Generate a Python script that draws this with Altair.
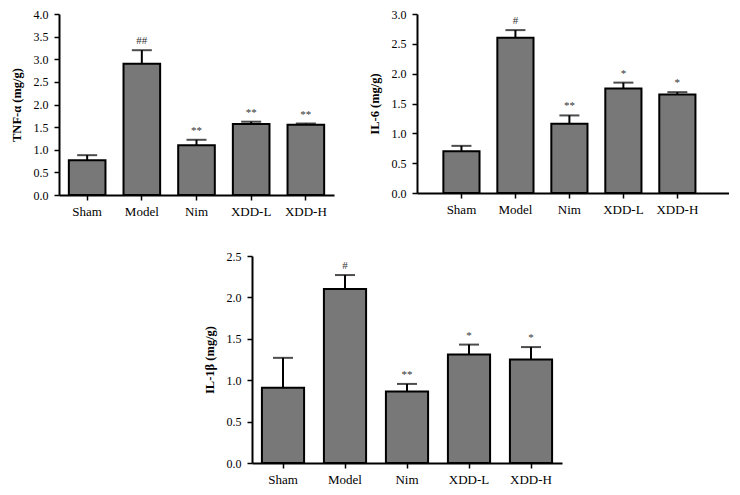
import altair as alt
import pandas as pd

groups = ["Sham", "Model", "Nim", "XDD-L", "XDD-H"]

tnf_mean = [0.77, 2.90, 1.10, 1.57, 1.55]
tnf_err = [0.11, 0.30, 0.12, 0.05, 0.03]
tnf_sig = ["", "##", "**", "**", "**"]

il6_mean = [0.70, 2.60, 1.16, 1.75, 1.65]
il6_err = [0.09, 0.13, 0.14, 0.10, 0.04]
il6_sig = ["", "#", "**", "*", "*"]

il1b_mean = [0.91, 2.10, 0.865, 1.31, 1.25]
il1b_err = [0.36, 0.17, 0.09, 0.12, 0.15]
il1b_sig = ["", "#", "**", "*", "*"]

SERIF = "Liberation Serif"


def panel(mean, err, sig, title, ymax, w, h, pi, po, align):
    df = pd.DataFrame({
        "group": groups,
        "mean": mean,
        "upper": [m + e for m, e in zip(mean, err)],
        "sig": sig,
    })
    xscale = alt.Scale(paddingInner=pi, paddingOuter=po, align=align)
    xaxis = alt.Axis(title=None, labelAngle=0, labelFontSize=13, labelPadding=5)
    yticks = [i * 0.5 for i in range(int(ymax / 0.5) + 1)]
    yscale = alt.Scale(domain=[0, ymax], nice=False, zero=True)
    yaxis = alt.Axis(title=title, values=yticks, format=".1f", titlePadding=10, labelPadding=6)

    def X():
        return alt.X("group:N", sort=groups, scale=xscale, axis=xaxis)

    base = alt.Chart(df)
    bars = base.mark_bar(fill="#787878", stroke="black", strokeWidth=2).encode(
        x=X(), y=alt.Y("mean:Q", scale=yscale, axis=yaxis)
    )
    rule = base.mark_rule(color="black", strokeWidth=2).encode(
        x=X(), y=alt.Y("mean:Q", scale=yscale, axis=yaxis), y2="upper:Q"
    )
    cap = base.mark_tick(color="black", size=20, thickness=2).encode(
        x=X(), y=alt.Y("upper:Q", scale=yscale, axis=yaxis)
    )
    text = base.mark_text(font=SERIF, fontSize=11, color="#333333", baseline="bottom", dy=-4).encode(
        x=X(), y=alt.Y("upper:Q", scale=yscale, axis=yaxis), text="sig:N"
    )
    return alt.layer(rule, bars, cap, text).properties(width=w, height=h)


p1 = panel(tnf_mean, tnf_err, tnf_sig, "TNF-α (mg/g)", 4.0, 275, 181, 0.33, 0.18, 0.5)
p2 = panel(il6_mean, il6_err, il6_sig, "IL-6 (mg/g)", 3.0, 312, 179, 0.33, 0.555, 0.44)
p3 = panel(il1b_mean, il1b_err, il1b_sig, "IL-1β (mg/g)", 2.5, 310, 207, 0.32, 0.16, 0.5)

spacer = alt.Chart(pd.DataFrame({"a": [0]})).mark_point(opacity=0, size=1).encode(
    x=alt.value(0), y=alt.value(0)
).properties(width=144, height=10)

top = alt.hconcat(p1, p2, spacing=34)
bottom = alt.hconcat(spacer, p3, spacing=0)

chart = alt.vconcat(top, bottom, spacing=32).properties(
    padding={"left": 2, "top": 0, "right": 0, "bottom": 0},
    background="white",
).configure_view(stroke=None).configure_axis(
    domainColor="black",
    domainWidth=2,
    tickColor="black",
    tickWidth=1.5,
    tickSize=5,
    grid=False,
    labelFont=SERIF,
    labelFontSize=12,
    labelColor="black",
    titleFont=SERIF,
    titleFontSize=12.5,
    titleFontWeight="bold",
    titleColor="black",
)

chart.save("out.html", embed_options={"renderer": "svg", "actions": False})
